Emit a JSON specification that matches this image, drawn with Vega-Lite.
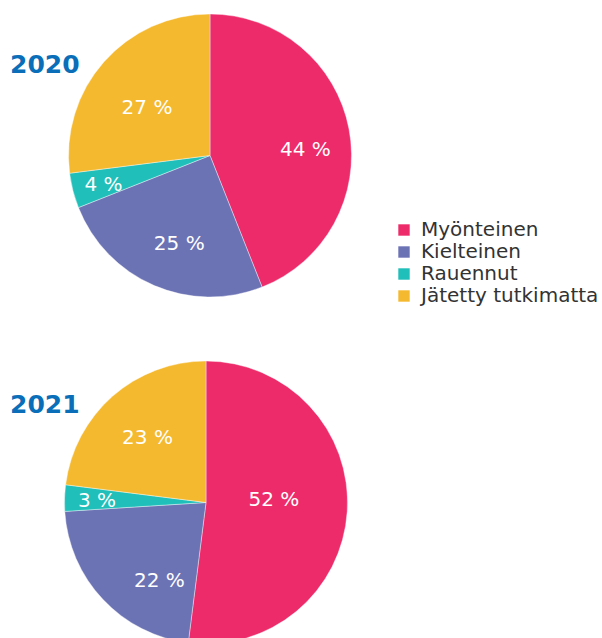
{
  "$schema": "https://vega.github.io/schema/vega-lite/v6.json",
  "padding": {"left": 10, "top": 13, "right": 0, "bottom": 0},
  "background": "white",
  "datasets": {
    "d": [
      {"year": 2020, "category": "Myönteinen", "value": 44, "label": "44 %", "idx": 1},
      {"year": 2020, "category": "Kielteinen", "value": 25, "label": "25 %", "idx": 2},
      {"year": 2020, "category": "Rauennut", "value": 4, "label": "4 %", "idx": 3},
      {"year": 2020, "category": "Jätetty tutkimatta", "value": 27, "label": "27 %", "idx": 4},
      {"year": 2021, "category": "Myönteinen", "value": 52, "label": "52 %", "idx": 1},
      {"year": 2021, "category": "Kielteinen", "value": 22, "label": "22 %", "idx": 2},
      {"year": 2021, "category": "Rauennut", "value": 3, "label": "3 %", "idx": 3},
      {"year": 2021, "category": "Jätetty tutkimatta", "value": 23, "label": "23 %", "idx": 4}
    ]
  },
  "vconcat": [
    {
      "width": 290,
      "height": 283,
      "data": {"name": "d"},
      "transform": [{"filter": "datum.year == 2020"}],
      "title": {"text": "2020", "anchor": "start", "frame": "group", "font": "DejaVu Sans", "fontSize": 25, "fontWeight": "bold", "color": "#0a6fb8", "dx": -55, "dy": 65, "offset": 0},
      "encoding": {
        "theta": {"field": "value", "type": "quantitative", "stack": true},
        "order": {"field": "idx", "type": "quantitative"}
      },
      "layer": [
        {
          "mark": {"type": "arc", "outerRadius": 141.5, "stroke": "white", "strokeWidth": 0.4},
          "encoding": {
            "color": {"field": "category", "type": "nominal",
              "scale": {"domain": ["Myönteinen", "Kielteinen", "Rauennut", "Jätetty tutkimatta"], "range": ["#ee2b6a", "#6c73b5", "#20bfb9", "#f5b930"]},
              "legend": {"orient": "none", "legendX": 329, "legendY": 206, "title": null}}
          }
        },
        {
          "mark": {"type": "text", "radius": 95, "dx": 2, "dy": 12, "font": "DejaVu Sans", "fontSize": 20, "color": "white"},
          "encoding": {"text": {"condition": {"test": "datum.category !== 'Myönteinen'", "value": ""}, "field": "label"}}
        },
        {
          "mark": {"type": "text", "radius": 95, "dx": 7, "dy": 1, "font": "DejaVu Sans", "fontSize": 20, "color": "white"},
          "encoding": {"text": {"condition": {"test": "datum.category !== 'Kielteinen'", "value": ""}, "field": "label"}}
        },
        {
          "mark": {"type": "text", "radius": 80, "dx": -3, "dy": 5, "font": "DejaVu Sans", "fontSize": 20, "color": "white"},
          "encoding": {"text": {"condition": {"test": "datum.category !== 'Jätetty tutkimatta'", "value": ""}, "field": "label"}}
        },
        {
          "mark": {"type": "text", "radius": 110, "dy": 2, "font": "DejaVu Sans", "fontSize": 20, "color": "white"},
          "encoding": {"text": {"condition": {"test": "datum.category !== 'Rauennut'", "value": ""}, "field": "label"}}
        }
      ]
    },
    {
      "width": 282,
      "height": 283,
      "data": {"name": "d"},
      "transform": [{"filter": "datum.year == 2021"}],
      "title": {"text": "2021", "anchor": "start", "frame": "group", "font": "DejaVu Sans", "fontSize": 25, "fontWeight": "bold", "color": "#0a6fb8", "dx": -55, "dy": 58, "offset": 0},
      "encoding": {
        "theta": {"field": "value", "type": "quantitative", "stack": true},
        "order": {"field": "idx", "type": "quantitative"}
      },
      "layer": [
        {
          "mark": {"type": "arc", "outerRadius": 141.5, "stroke": "white", "strokeWidth": 0.4},
          "encoding": {
            "color": {"field": "category", "type": "nominal",
              "scale": {"domain": ["Myönteinen", "Kielteinen", "Rauennut", "Jätetty tutkimatta"], "range": ["#ee2b6a", "#6c73b5", "#20bfb9", "#f5b930"]},
              "legend": {"orient": "none", "legendX": 329, "legendY": 206, "title": null}}
          }
        },
        {
          "mark": {"type": "text", "radius": 68, "dy": -7, "font": "DejaVu Sans", "fontSize": 20, "color": "white"},
          "encoding": {"text": {"condition": {"test": "datum.category !== 'Myönteinen'", "value": ""}, "field": "label"}}
        },
        {
          "mark": {"type": "text", "radius": 90, "dx": 19, "dy": 17, "font": "DejaVu Sans", "fontSize": 20, "color": "white"},
          "encoding": {"text": {"condition": {"test": "datum.category !== 'Kielteinen'", "value": ""}, "field": "label"}}
        },
        {
          "mark": {"type": "text", "radius": 90, "dx": 1, "dy": 3, "font": "DejaVu Sans", "fontSize": 20, "color": "white"},
          "encoding": {"text": {"condition": {"test": "datum.category !== 'Jätetty tutkimatta'", "value": ""}, "field": "label"}}
        },
        {
          "mark": {"type": "text", "radius": 109, "dy": 2, "font": "DejaVu Sans", "fontSize": 20, "color": "white"},
          "encoding": {"text": {"condition": {"test": "datum.category !== 'Rauennut'", "value": ""}, "field": "label"}}
        }
      ]
    }
  ],
  "spacing": 62,
  "config": {
    "view": {"stroke": null},
    "legend": {"symbolType": "square", "symbolSize": 130, "symbolStrokeWidth": 0, "labelFont": "DejaVu Sans", "labelFontSize": 20, "labelColor": "#333333", "rowPadding": 2, "labelOffset": 7, "labelLimit": 400}
  }
}
